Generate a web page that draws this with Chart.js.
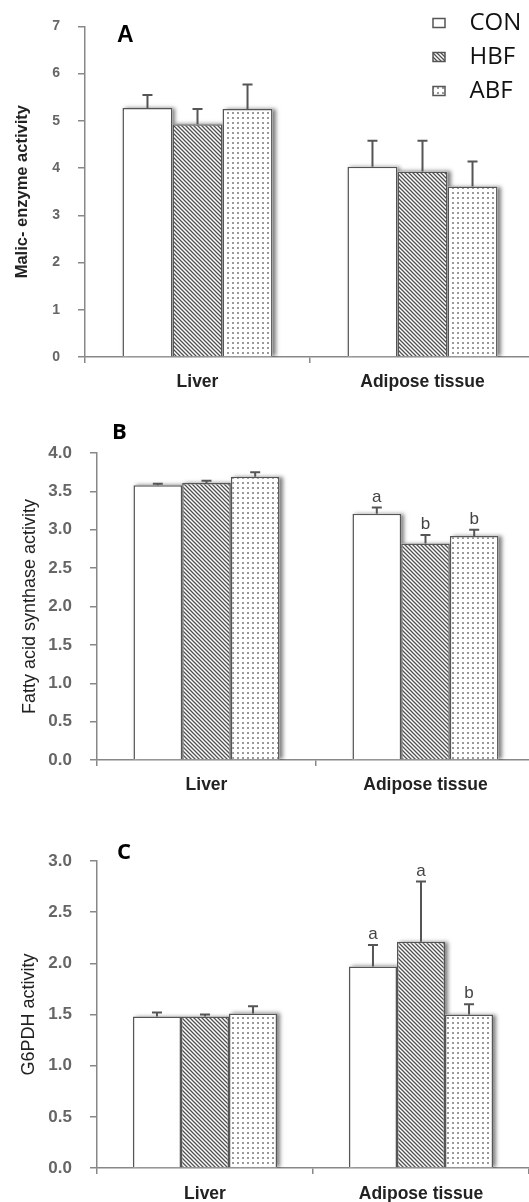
<!DOCTYPE html>
<html>
<head>
<meta charset="utf-8">
<script src="https://cdn.jsdelivr.net/npm/chart.js@4.4.1/dist/chart.umd.min.js"></script>
<style>
  html, body { margin: 0; padding: 0; background: #fff; overflow: hidden; width: 529px; height: 1202px; }
  canvas { position: absolute; left: 0; }
</style>
</head>
<body>
<canvas id="panelA" width="545" height="400" style="top:0"></canvas>
<canvas id="panelB" width="545" height="400" style="top:400px"></canvas>
<canvas id="panelC" width="545" height="402" style="top:800px"></canvas>
<script>
const categories = ['Liver', 'Adipose tissue'];
const groups = ['CON', 'HBF', 'ABF'];

// A - malic enzyme
const malicCON = [5.27, 4.03];
const malicHBF = [4.93, 3.93];
const malicABF = [5.25, 3.61];
const malicErrCON = [0.28, 0.55];
const malicErrHBF = [0.32, 0.65];
const malicErrABF = [0.52, 0.53];
const ticksA = ['0', '1', '2', '3', '4', '5', '6', '7'];

// B - fatty acid synthase
const fasCON = [3.58, 3.21];
const fasHBF = [3.61, 2.82];
const fasABF = [3.69, 2.92];
const fasErrCON = [0.02, 0.08];
const fasErrHBF = [0.03, 0.11];
const fasErrABF = [0.06, 0.08];
const fasLettersCON = ['', 'a'];
const fasLettersHBF = ['', 'b'];
const fasLettersABF = ['', 'b'];
const ticksB = ['0.0', '0.5', '1.0', '1.5', '2.0', '2.5', '3.0', '3.5', '4.0'];

// C - G6PDH
const g6pdhCON = [1.48, 1.97];
const g6pdhHBF = [1.48, 2.21];
const g6pdhABF = [1.51, 1.50];
const g6pdhErrCON = [0.04, 0.21];
const g6pdhErrHBF = [0.02, 0.59];
const g6pdhErrABF = [0.07, 0.10];
const g6pdhLettersCON = ['', 'a'];
const g6pdhLettersHBF = ['', 'a'];
const g6pdhLettersABF = ['', 'b'];
const ticksC = ['0.0', '0.5', '1.0', '1.5', '2.0', '2.5', '3.0'];

const AXIS = '#888';

function hatchPattern() {
    const c = document.createElement('canvas');
    c.width = 4; c.height = 4;
    const g = c.getContext('2d');
    g.fillStyle = '#fff';
    g.fillRect(0, 0, 4, 4);
    g.strokeStyle = '#505050';
    g.lineWidth = 1.3;
    g.beginPath();
    g.moveTo(-1, -1); g.lineTo(5, 5);
    g.moveTo(-1, 3); g.lineTo(1, 5);
    g.moveTo(3, -1); g.lineTo(5, 1);
    g.stroke();
    return g.createPattern(c, 'repeat');
}

function dotPattern() {
    const c = document.createElement('canvas');
    c.width = 5; c.height = 5;
    const g = c.getContext('2d');
    g.fillStyle = '#fff';
    g.fillRect(0, 0, 5, 5);
    g.fillStyle = '#999';
    g.fillRect(2, 2, 2, 2);
    return g.createPattern(c, 'repeat');
}

const fills = ['#fff', hatchPattern(), dotPattern()];

// soft grey shadow to the right of the bars
const barShadow = {
    id: 'barShadow',
    beforeDatasetsDraw(chart) {
        const ctx = chart.ctx;
        const area = chart.chartArea;
        ctx.save();
        ctx.beginPath();
        ctx.rect(area.left, area.top - 30, area.width, area.height + 30);
        ctx.clip();
        ctx.shadowColor = 'rgba(0,0,0,0.5)';
        ctx.shadowBlur = 4;
        ctx.shadowOffsetX = 3;
        ctx.fillStyle = '#fff';
        chart.data.datasets.forEach((ds, i) => {
            chart.getDatasetMeta(i).data.forEach(bar => {
                const { x, y, width, base } = bar.getProps(['x', 'y', 'width', 'base'], true);
                ctx.fillRect(x - width / 2, y, width, base - y);
            });
        });
        ctx.restore();
    }
};

// upper error bars + significance letters
const errorBars = {
    id: 'errorBars',
    afterDatasetsDraw(chart) {
        const ctx = chart.ctx;
        const yScale = chart.scales.y;
        ctx.save();
        ctx.strokeStyle = '#555';
        ctx.lineWidth = 2;
        ctx.fillStyle = '#444';
        ctx.font = '17px "Liberation Sans", Arial, sans-serif';
        ctx.textAlign = 'center';
        ctx.textBaseline = 'bottom';
        chart.data.datasets.forEach((ds, i) => {
            chart.getDatasetMeta(i).data.forEach((bar, j) => {
                const top = yScale.getPixelForValue(ds.data[j] + ds.errors[j]);
                ctx.beginPath();
                ctx.moveTo(bar.x, bar.y);
                ctx.lineTo(bar.x, top);
                ctx.moveTo(bar.x - 5, top);
                ctx.lineTo(bar.x + 5, top);
                ctx.stroke();
                if (ds.letters && ds.letters[j]) {
                    ctx.fillText(ds.letters[j], bar.x, top - 2);
                }
            });
        });
        ctx.restore();
    }
};

const panelLabel = {
    id: 'panelLabel',
    afterDraw(chart, args, opts) {
        const ctx = chart.ctx;
        ctx.save();
        ctx.fillStyle = '#000';
        ctx.font = opts.font;
        ctx.textAlign = 'left';
        ctx.textBaseline = 'alphabetic';
        ctx.fillText(opts.text, opts.x, opts.y);
        ctx.restore();
    }
};

// move the legend to the top right corner
const legendSpot = {
    id: 'legendSpot',
    afterLayout(chart, args, opts) {
        if (chart.legend && opts.left != null) {
            chart.legend.left = opts.left;
            chart.legend.top = opts.top;
        }
    }
};

function makePanel(id, p) {
    const datasets = groups.map((g, k) => ({
        label: g,
        data: p.values[k],
        errors: p.errors[k],
        letters: p.letters ? p.letters[k] : null,
        backgroundColor: fills[k],
        borderColor: '#555',
        borderWidth: 1.5,
        categoryPercentage: 0.667,
        barPercentage: 1,
    }));

    return new Chart(document.getElementById(id).getContext('2d'), {
        type: 'bar',
        data: { labels: categories, datasets: datasets },
        plugins: [barShadow, errorBars, panelLabel, legendSpot],
        options: {
            responsive: false,
            animation: false,
            layout: { padding: { top: p.top, right: p.right, left: 0, bottom: 0 } },
            plugins: {
                tooltip: { enabled: false },
                legend: {
                    display: !!p.legend,
                    position: 'chartArea',
                    align: 'start',
                    labels: {
                        boxWidth: 12,
                        boxHeight: 9,
                        padding: 10,
                        color: '#111',
                        font: { family: 'Open Sans', size: 24 },
                        generateLabels(chart) {
                            return Chart.defaults.plugins.legend.labels.generateLabels(chart)
                                .map(l => ({ ...l, text: '  ' + l.text }));
                        }
                    }
                },
                legendSpot: p.legend || {},
                panelLabel: p.label,
            },
            scales: {
                x: {
                    offset: true,
                    afterFit: (scale) => { scale.height = p.xHeight; },
                    grid: { display: true, offset: true, drawOnChartArea: false, drawTicks: true, tickLength: 6, color: AXIS, lineWidth: 1.5 },
                    border: { display: true, color: AXIS, width: 1.5 },
                    ticks: {
                        color: '#222',
                        padding: p.xPad,
                        font: { family: 'Liberation Sans', size: 17.5, weight: 'bold' },
                    },
                },
                y: {
                    min: 0,
                    max: p.max,
                    afterFit: (scale) => { scale.width = p.left; },
                    grid: { drawOnChartArea: false, tickLength: 7, color: AXIS, lineWidth: 1.5 },
                    border: { display: true, color: AXIS, width: 1.5 },
                    ticks: {
                        stepSize: p.step,
                        color: '#666',
                        padding: 18,
                        font: { family: 'Liberation Sans', size: p.tickSize, weight: 'bold' },
                        callback: (v, i) => p.ticks[i],
                    },
                    title: {
                        display: true,
                        text: p.title,
                        color: '#222',
                        font: p.titleFont,
                        padding: { top: p.titlePad, bottom: 0 },
                    },
                },
            },
        },
    });
}

makePanel('panelA', {
    values: [malicCON, malicHBF, malicABF],
    errors: [malicErrCON, malicErrHBF, malicErrABF],
    max: 7, step: 1, ticks: ticksA, tickSize: 14,
    top: 21, right: 10, left: 85, xHeight: 43, xPad: 9,
    title: 'Malic- enzyme activity',
    titleFont: { family: 'Liberation Sans', size: 16.5, weight: 'bold' },
    titlePad: 13,
    label: { text: 'A', x: 117, y: 42, font: 'bold 23px "Liberation Sans", Arial, sans-serif' },
    legend: { left: 423, top: 1 },
});

makePanel('panelB', {
    values: [fasCON, fasHBF, fasABF],
    errors: [fasErrCON, fasErrHBF, fasErrABF],
    letters: [fasLettersCON, fasLettersHBF, fasLettersABF],
    max: 4, step: 0.5, ticks: ticksB, tickSize: 17,
    top: 53, right: 10, left: 97, xHeight: 40, xPad: 9,
    title: 'Fatty acid synthase activity',
    titleFont: { family: 'Liberation Sans', size: 18 },
    titlePad: 19,
    label: { text: 'B', x: 112, y: 39, font: 'bold 22px "Open Sans", sans-serif' },
});

makePanel('panelC', {
    values: [g6pdhCON, g6pdhHBF, g6pdhABF],
    errors: [g6pdhErrCON, g6pdhErrHBF, g6pdhErrABF],
    letters: [g6pdhLettersCON, g6pdhLettersHBF, g6pdhLettersABF],
    max: 3, step: 0.5, ticks: ticksC, tickSize: 17,
    top: 61, right: 16, left: 97, xHeight: 34, xPad: 10,
    title: 'G6PDH activity',
    titleFont: { family: 'Liberation Sans', size: 18 },
    titlePad: 18,
    label: { text: 'C', x: 117, y: 59, font: 'bold 22px "Open Sans", sans-serif' },
});
</script>
</body>
</html>
